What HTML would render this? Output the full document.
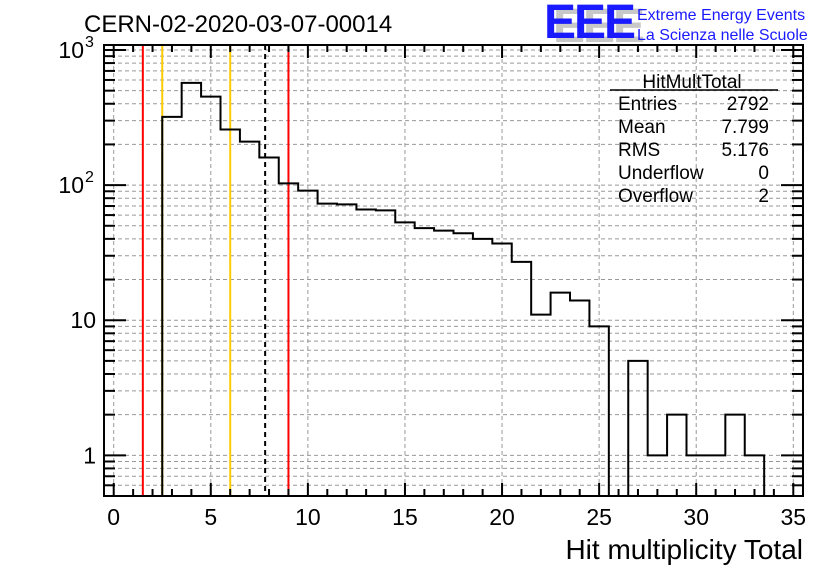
<!DOCTYPE html>
<html><head><meta charset="utf-8"><style>
html,body{margin:0;padding:0;background:#fff;}
svg{display:block;font-family:"Liberation Sans",Arial,sans-serif;}
</style></head><body>
<svg id="chart" width="836" height="572" viewBox="0 0 836 572">
<rect width="836" height="572" fill="#fff"/>
<g id="grid"></g>
<g id="lines"></g>
<g id="hist"></g>
<rect x="104" y="45" width="699" height="451" fill="none" stroke="#000" stroke-width="2"/>
<g id="ticks"></g>
<g id="labels" font-size="23"></g>
<text x="84" y="32" font-size="24">CERN-02-2020-03-07-00014</text>
<text x="803" y="559" font-size="28" text-anchor="end">Hit multiplicity Total</text>
<g>
<text x="553" y="42" font-size="48" font-weight="bold" fill="#c8c8c8" letter-spacing="-2" transform="scale(1,1)">EEE</text>
<text x="544" y="38" font-size="48" font-weight="bold" fill="#1a1aff" letter-spacing="-2">EEE</text>
<text x="637" y="20" font-size="16" fill="#1a1aff">Extreme Energy Events</text>
<text x="637" y="40" font-size="16" fill="#1a1aff">La Scienza nelle Scuole</text>
</g>
<g font-size="19">
<text x="692" y="88" text-anchor="middle">HitMultTotal</text>
<line x1="610" y1="90" x2="778" y2="90" stroke="#000" stroke-width="1.5"/>
<text x="618" y="110">Entries</text><text x="769" y="110" text-anchor="end">2792</text>
<text x="618" y="133">Mean</text><text x="769" y="133" text-anchor="end">7.799</text>
<text x="618" y="156">RMS</text><text x="769" y="156" text-anchor="end">5.176</text>
<text x="618" y="179">Underflow</text><text x="769" y="179" text-anchor="end">0</text>
<text x="618" y="202">Overflow</text><text x="769" y="202" text-anchor="end">2</text>
</g>
</svg>
<script>
const binCenters=[3,4,5,6,7,8,9,10,11,12,13,14,15,16,17,18,19,20,21,22,23,24,25,26,27,28,29,30,31,32,33];
const binCounts=[320,571,452,258,210,160,103,91,73,72,66,65,53,48,46,44,40,37,27,11,16,14,9,0,5,1,2,1,1,2,1];
const markerValues=[1.5,2.5,6,7.799,9];
const markerColors=["#ff0000","#ffcc00","#ffcc00","#000","#ff0000"];
const xTicks=[0,5,10,15,20,25,30,35];
const yDecades=[1,10,100,1000];
const NS="http://www.w3.org/2000/svg";
const X0=-0.5,X1=35.5,PL=104,PR=803,PT=45,PB=496;
const YMIN=0.5,YMAX=Math.pow(10,3+5/135.5);
function sx(v){return PL+(v-X0)/(X1-X0)*(PR-PL);}
function sy(v){return PB-(Math.log10(v)-Math.log10(YMIN))/(Math.log10(YMAX)-Math.log10(YMIN))*(PB-PT);}
function mk(t,a,p){const e=document.createElementNS(NS,t);for(const k in a)e.setAttribute(k,a[k]);p.appendChild(e);return e;}
const grid=document.getElementById('grid'),ticks=document.getElementById('ticks'),labels=document.getElementById('labels');
for(const t of xTicks){if(t<=X0||t>=X1)continue;const l=mk('line',{x1:sx(t),x2:sx(t),y1:PT,y2:PB,stroke:'#999','stroke-dasharray':'4,3','stroke-width':1},grid);

}
const yMinor=[];
for(let d=0.1;d<=1000;d*=10){for(let m=1;m<=9;m++){const v=+(m*d).toPrecision(3);if(v>=YMIN&&v<=YMAX)yMinor.push(v);}}
for(const v of yMinor){const y=sy(v);const l=mk('line',{x1:PL,x2:PR,y1:y,y2:y,stroke:'#999','stroke-dasharray':'4,3','stroke-width':1},grid);


const major=yDecades.includes(v);const len=major?22:11;
const t1=mk('line',{x1:PL,x2:PL+len,y1:y,y2:y,stroke:'#000','stroke-width':2},ticks);


const t2=mk('line',{x1:PR,x2:PR-len,y1:y,y2:y,stroke:'#000','stroke-width':2},ticks);

}
for(let v=0;v<=35;v++){const x=sx(v);const len=(v%5===0)?13:7;
const a=mk('line',{x1:x,x2:x,y1:PB,y2:PB-len,stroke:'#000','stroke-width':2},ticks);


const b=mk('line',{x1:x,x2:x,y1:PT,y2:PT+len,stroke:'#000','stroke-width':2},ticks);

}
for(const t of xTicks){const e=mk('text',{x:sx(t),y:525,'text-anchor':'middle'},labels);e.textContent=t;

}
for(const d of yDecades){const y=sy(d);const e=mk('text',{x:d>=100?84:96,y:y+8,'text-anchor':'end'},labels);


if(d>=100){e.textContent='10';const s=mk('text',{x:85,y:y-3,'font-size':16},labels);s.textContent=String(Math.log10(d));

}else e.textContent=d;}
let path='';
for(let i=0;i<binCenters.length;i++){const xl=sx(binCenters[i]-0.5),xr=sx(binCenters[i]+0.5);const c=binCounts[i];const y=c>0?Math.min(sy(c),PB):PB;
path+=(i===0?'M'+xl+','+PB:'')+' L'+xl+','+y+' L'+xr+','+y;}
path+=' L'+sx(binCenters[binCenters.length-1]+0.5)+','+PB;
const h=mk('path',{d:path,fill:'none',stroke:'#000','stroke-width':2},document.getElementById('hist'));


markerValues.forEach((v,i)=>{const x=sx(v);const a={x1:x,x2:x,y1:PT,y2:PB,stroke:markerColors[i],'stroke-width':2};if(i===3)a['stroke-dasharray']='5,4';
const l=mk('line',a,document.getElementById('lines'));

});
</script>
</body></html>
